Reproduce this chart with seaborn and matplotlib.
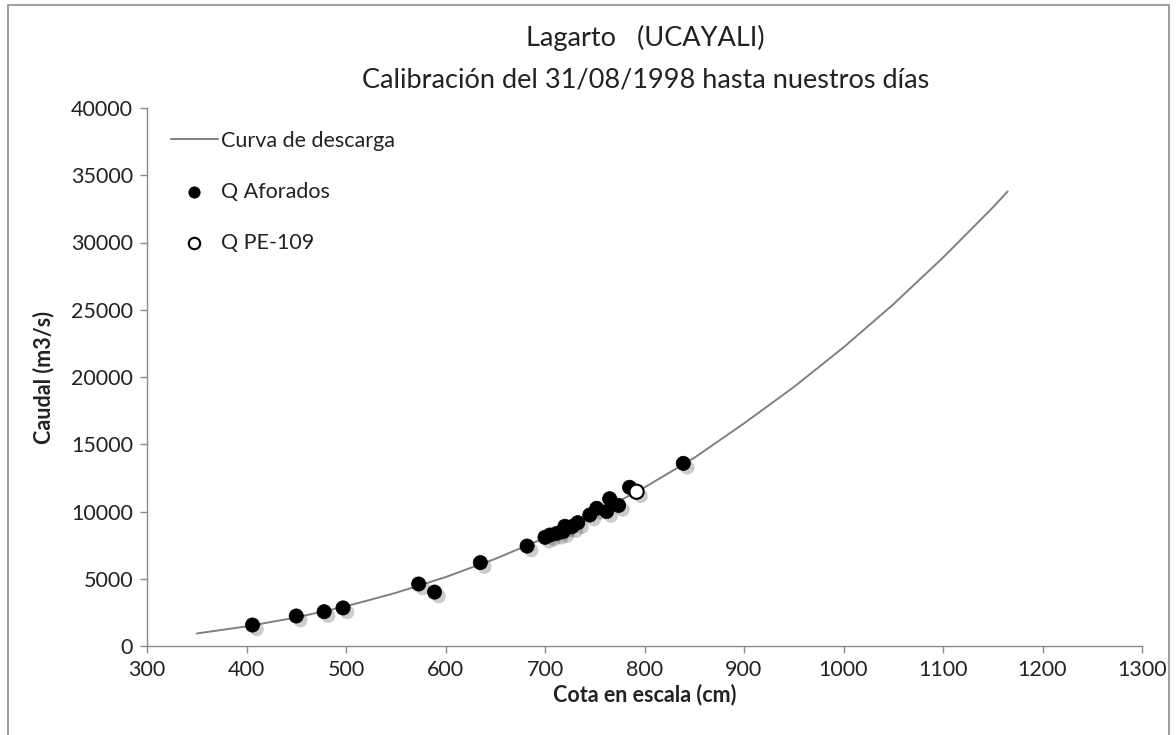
import matplotlib
matplotlib.use("Agg")
import matplotlib.pyplot as plt
import matplotlib.patheffects as pe
from matplotlib.patches import Rectangle
import seaborn as sns
import pandas as pd

# Rating curve
curve_cota = [350, 400, 450, 500, 550, 600, 650, 700, 750, 800, 850, 900,
              950, 1000, 1050, 1100, 1150, 1165]
curve_caudal = [930, 1460, 2120, 2950, 3950, 5120, 6480, 8040, 9800, 11790,
                13990, 16550, 19250, 22200, 25400, 28880, 32600, 33800]

# Gauged discharges
aforo_cota = [406, 450, 478, 497, 573, 589, 635, 682, 700, 705, 712, 718,
              720, 727, 733, 745, 752, 762, 765, 774, 785, 839]
aforo_caudal = [1560, 2230, 2550, 2830, 4610, 4010, 6200, 7430, 8080, 8250,
                8380, 8500, 8900, 8870, 9170, 9740, 10240, 10000, 10950,
                10450, 11800, 13580]

# PE-109
pe_cota = [792]
pe_caudal = [11470]

x_ticks = [300, 400, 500, 600, 700, 800, 900, 1000, 1100, 1200, 1300]
y_ticks = [0, 5000, 10000, 15000, 20000, 25000, 30000, 35000, 40000]

sns.set_theme(style="white")
plt.rcParams["font.family"] = ["Lato", "DejaVu Sans"]

fig = plt.figure(figsize=(11.76, 7.35), dpi=100)
ax = fig.add_axes([147 / 1176, 89 / 735, 995 / 1176, 538 / 735])

df_curve = pd.DataFrame({"x": curve_cota, "y": curve_caudal})
df_af = pd.DataFrame({"x": aforo_cota, "y": aforo_caudal})
df_pe = pd.DataFrame({"x": pe_cota, "y": pe_caudal})

sns.lineplot(data=df_curve, x="x", y="y", ax=ax, color="#808080", lw=1.4,
             label="Curva de descarga", sort=True, zorder=2)

shadow = [pe.SimplePatchShadow(offset=(3, -3), shadow_rgbFace="#000000", alpha=0.2),
          pe.Normal()]
sns.scatterplot(data=df_af, x="x", y="y", ax=ax, color="black", s=105,
                edgecolor="black", linewidth=0.5, label="Q Aforados", zorder=3)
sns.scatterplot(data=df_pe, x="x", y="y", ax=ax, color="white", s=105,
                edgecolor="black", linewidth=1.5, label="Q PE-109", zorder=4)
for coll in ax.collections:
    coll.set_path_effects(shadow)

FS = 15.5
ax.set_xlim(300, 1300)
ax.set_ylim(0, 40000)
ax.set_xticks(x_ticks)
ax.set_yticks(y_ticks)
ax.set_xticklabels([str(v) for v in x_ticks], fontsize=FS, color="#222222")
ax.set_yticklabels([str(v) for v in y_ticks], fontsize=FS, color="#222222")

for s in ["top", "right"]:
    ax.spines[s].set_visible(False)
for s in ["left", "bottom"]:
    ax.spines[s].set_color("#8c8c8c")
    ax.spines[s].set_linewidth(1.0)
ax.tick_params(axis="both", which="major", direction="out", length=5,
               width=1.0, color="#8c8c8c", bottom=True, left=True, pad=5)

ax.set_xlabel("Cota en escala (cm)", fontsize=FS, fontweight="bold",
              color="#222222", labelpad=3)
ax.set_ylabel("Caudal (m3/s)", fontsize=FS, fontweight="bold",
              color="#222222", labelpad=12)

fig.text(0.549, 0.966, "Lagarto   (UCAYALI)", ha="center", va="top",
         fontsize=19.5, color="#222222")
fig.text(0.549, 0.908, "Calibración del 31/08/1998 hasta nuestros días",
         ha="center", va="top", fontsize=19.5, color="#222222")

leg = ax.legend(loc="upper left", bbox_to_anchor=(0.013, 0.978), frameon=False,
                fontsize=FS, labelspacing=1.45, handlelength=2.2,
                handletextpad=0.15, borderpad=0, markerscale=0.8)
for t in leg.get_texts():
    t.set_color("#222222")
for h in leg.legend_handles:
    try:
        h.set_path_effects([])
    except Exception:
        pass

# Chart border (Excel-like frame)
fig.patches.append(Rectangle((8 / 1176, -0.02), 1161 / 1176, (730 / 735) + 0.02,
                             transform=fig.transFigure, fill=False,
                             edgecolor="#8c8c8c", linewidth=1.2))

fig.savefig("out.png", dpi=100, facecolor="white")
